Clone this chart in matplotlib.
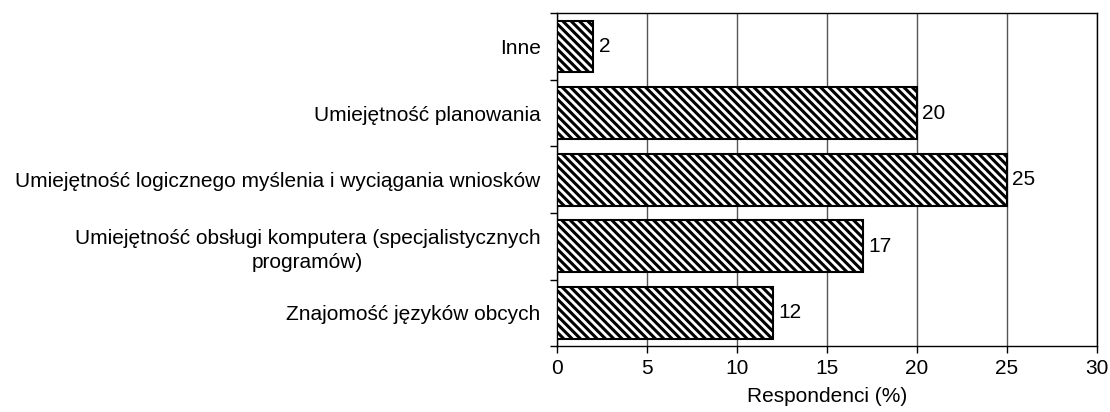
import numpy as np
import matplotlib
matplotlib.use("Agg")
import matplotlib.pyplot as plt

plt.rcParams['font.family'] = ['Liberation Sans', 'DejaVu Sans']
plt.rcParams['hatch.linewidth'] = 2.2

# data, bottom to top
categories = [
    "Znajomość języków obcych",
    "Umiejętność obsługi komputera (specjalistycznych\nprogramów)",
    "Umiejętność logicznego myślenia i wyciągania wniosków",
    "Umiejętność planowania",
    "Inne",
]
values = [12, 17, 25, 20, 2]
xticks = [0, 5, 10, 15, 20, 25, 30]

FS = 15

fig = plt.figure(figsize=(11.1, 4.12), dpi=100)
ax = fig.add_axes([0.502, 0.160, 0.486, 0.808])

y = np.arange(len(categories))
bars = ax.barh(y, values, height=0.78, color='white', edgecolor='black',
               linewidth=1.5, hatch='\\' * 4, zorder=3)

for yi, v in zip(y, values):
    ax.text(v + 0.3, yi, str(v), ha='left', va='center', fontsize=FS)

ax.set_xlim(0, 30)
ax.set_ylim(-0.5, len(categories) - 0.5)
ax.set_xticks(xticks)
ax.set_xticklabels([str(t) for t in xticks], fontsize=FS)
ax.set_xlabel("Respondenci (%)", fontsize=FS, labelpad=7)

ax.set_yticks(y)
ax.set_yticklabels(categories, fontsize=FS, multialignment='center',
                   linespacing=1.35)
ax.set_yticks(np.arange(-0.5, len(categories)), minor=True)
ax.tick_params(axis='y', which='major', length=0, pad=12)
ax.tick_params(axis='y', which='minor', length=5, direction='out', width=1)
ax.tick_params(axis='x', length=5, direction='out', width=1, pad=4)

ax.xaxis.grid(True, color='#555555', linewidth=1.0, zorder=0)
ax.set_axisbelow(True)
for s in ax.spines.values():
    s.set_color('black')
    s.set_linewidth(1.0)

fig.savefig("out.png", dpi=100)
